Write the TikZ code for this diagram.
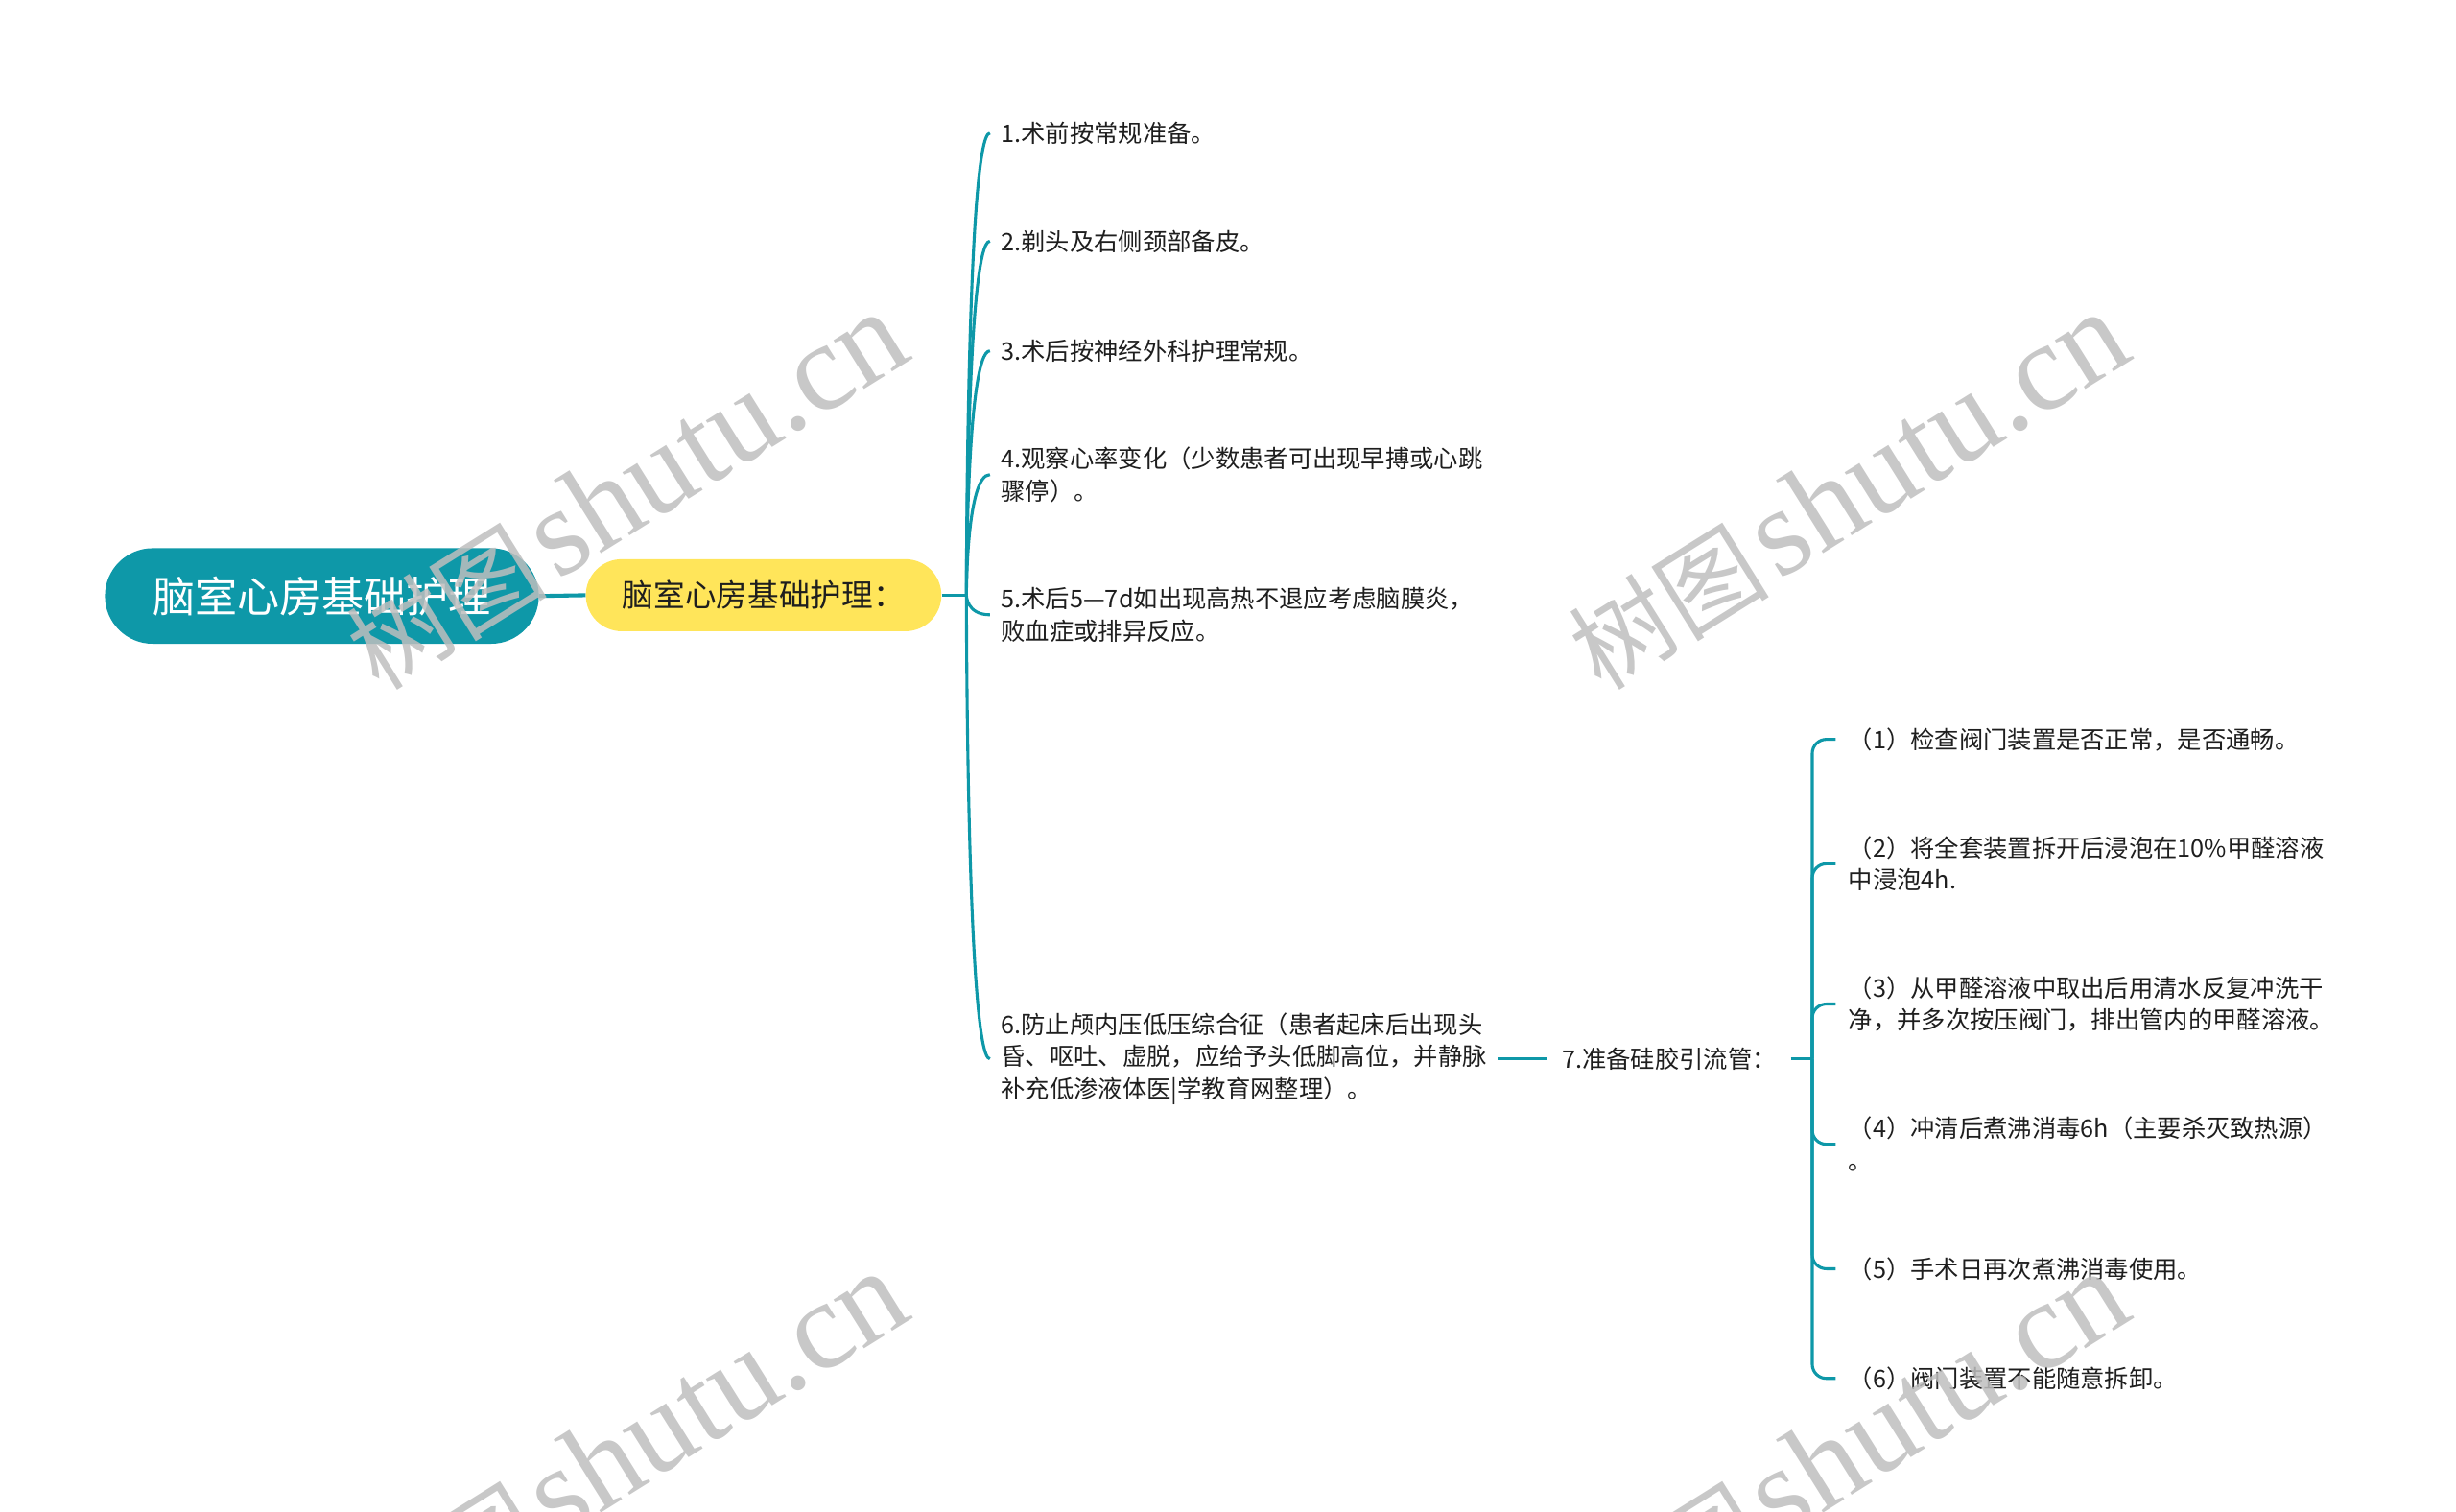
\documentclass[tikz,border=0pt]{standalone}
\usepackage{fontspec}
\setmainfont{Noto Sans CJK SC}
\newfontfamily\wmserif{Liberation Serif}
\usetikzlibrary{calc}
\definecolor{teal1}{RGB}{14,152,168}
\definecolor{yel}{RGB}{255,229,90}
\definecolor{txt}{RGB}{30,30,30}
\definecolor{wm}{RGB}{190,190,190}
\begin{document}
\begin{tikzpicture}[x=1pt,y=-1pt,
  rootbox/.style={fill=teal1, rounded corners=30.5pt, minimum width=277pt, minimum height=61pt, text=white, font=\fontsize{27}{32}\selectfont, inner sep=0pt},
  subbox/.style={fill=yel, rounded corners=23pt, minimum width=227pt, minimum height=46pt, text=txt, font=\fontsize{20}{24}\selectfont, inner sep=0pt},
  item/.style={anchor=west, align=left, inner xsep=7pt, inner ysep=1pt, text=txt, font=\fontsize{15.5}{20.5}\selectfont},
  subitem/.style={item, inner xsep=8pt},
  br/.style={draw=teal1, line width=1.9pt},
  thick br/.style={draw=teal1, line width=2.5pt},
  wmark/.style={text=wm, rotate=32, opacity=0.85, inner sep=0pt}
]
\useasboundingbox (0,0) rectangle (1568,965);

% nodes
\node[rootbox] (root) at (205.5,380.5) {脑室心房基础护理};
\node[subbox] (sub) at (487.5,380) {脑室心房基础护理：};
\coordinate (J) at (617,380);

\node[item] (i1) at (632,85) {1.术前按常规准备。};
\node[item] (i2) at (632,154) {2.剃头及右侧颈部备皮。};
\node[item] (i3) at (632,224) {3.术后按神经外科护理常规。};
\node[item] (i4) at (632,303) {4.观察心率变化（少数患者可出现早搏或心跳\\骤停）。};
\node[item] (i5) at (632,392.5) {5.术后5—7d如出现高热不退应考虑脑膜炎，\\败血症或排异反应。};
\node[item] (i6) at (632,676) {6.防止颅内压低压综合征（患者起床后出现头\\昏、呕吐、虚脱，应给予头低脚高位，并静脉\\补充低渗液体医|学教育网整理）。};
\node[item, inner xsep=9pt] (i7) at (988,676) {7.准备硅胶引流管：};
\coordinate (K) at (1157,676);

\node[subitem] (s1) at (1172,472) {（1）检查阀门装置是否正常，是否通畅。};
\node[subitem] (s2) at (1172,551.5) {（2）将全套装置拆开后浸泡在10\%甲醛溶液\\中浸泡4h.};
\node[subitem] (s3) at (1172,641) {（3）从甲醛溶液中取出后用清水反复冲洗干\\净，并多次按压阀门，排出管内的甲醛溶液。};
\node[subitem] (s4) at (1172,730.5) {（4）冲清后煮沸消毒6h（主要杀灭致热源）\\。};
\node[subitem] (s5) at (1172,810) {（5）手术日再次煮沸消毒使用。};
\node[subitem] (s6) at (1172,880) {（6）阀门装置不能随意拆卸。};

% connectors
\draw[thick br] (root.east) -- (sub.west);
\draw[br] (sub.east) -- (J);
\foreach \n in {i1,i2,i3,i4,i5,i6}{
  \draw[br] (J) .. controls (J) and (J |- \n.west) .. (\n.west);
}
\draw[br] (i6.east) -- (i7.west);
\draw[br] (i7.east) -- (K);
\foreach \n in {s1,s2,s3,s4,s5,s6}{
  \draw[br, rounded corners=9pt] (K) |- (\n.west);
}

% watermarks
\foreach \p/\q in {w1/{(400,314)}, w2/{(1180,314)}, w3/{(400,926)}, w4/{(1180,926)}}{
  \node[wmark] (\p) at \q {{\fontsize{64}{64}\selectfont 树图}\hspace{6pt}{\wmserif\fontsize{80}{80}\selectfont shutu.cn}};
}
\end{tikzpicture}
\end{document}
